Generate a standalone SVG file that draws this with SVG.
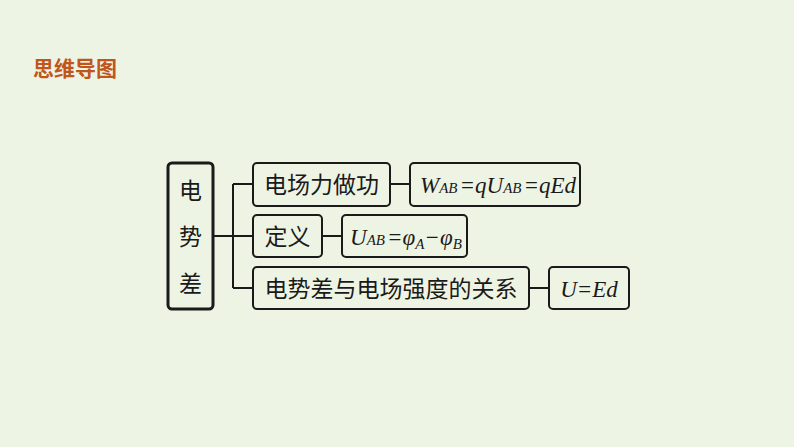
<svg xmlns="http://www.w3.org/2000/svg" width="794" height="447" viewBox="0 0 794 447">
<style>
.box{fill:#eef4e4;stroke:#1a1a1a;stroke-width:2}
.main{fill:#eef4e4;stroke:#1a1a1a;stroke-width:3}
.cn{font-family:"Noto Sans CJK SC","Noto Sans CJK TC",sans-serif;font-size:23px;fill:#1a1a1a}
.f{font-family:"Liberation Serif",serif;font-style:italic;font-size:23px;fill:#1a1a1a}
.s{font-size:15px}
.con{stroke:#1a1a1a;stroke-width:2;fill:none}
</style>
<rect width="794" height="447" fill="#eef4e4"/>
<text x="33" y="76" font-family="Noto Sans CJK SC,sans-serif" font-size="21" font-weight="bold" fill="#c0561b">思维导图</text>
<g id="connectors">
<path class="con" d="M213 236H253M233 184V288M233 184H253M233 288H253M390 184H410M322 236H342M529 288H549"/>
</g>
<g id="n-main">
<rect class="main" x="168" y="163" width="45" height="146" rx="4"/>
<text class="cn" x="190.5" y="199" text-anchor="middle">电</text>
<text class="cn" x="190.5" y="245" text-anchor="middle">势</text>
<text class="cn" x="190.5" y="292" text-anchor="middle">差</text>
</g>
<g id="n-work">
<rect class="box" x="253" y="163" width="137" height="43" rx="4"/>
<text class="cn" x="321.5" y="193" text-anchor="middle">电场力做功</text>
</g>
<g id="n-wab">
<rect class="box" x="410" y="163" width="170" height="43" rx="4"/>
<text class="f" x="420" y="193">W<tspan class="s">AB</tspan><tspan dx="2">=qU</tspan><tspan class="s">AB</tspan><tspan dx="2">=qEd</tspan></text>
</g>
<g id="n-def">
<rect class="box" x="253" y="215" width="69" height="42" rx="4"/>
<text class="cn" x="287.5" y="245" text-anchor="middle">定义</text>
</g>
<g id="n-uab">
<rect class="box" x="342" y="215" width="125" height="42" rx="4"/>
<text class="f" x="350" y="245">U<tspan class="s">AB</tspan><tspan dx="2">=φ</tspan><tspan class="s" dy="4">A</tspan><tspan dy="-4">−φ</tspan><tspan class="s" dy="4">B</tspan></text>
</g>
<g id="n-rel">
<rect class="box" x="253" y="267" width="276" height="42" rx="4"/>
<text class="cn" x="391" y="297" text-anchor="middle">电势差与电场强度的关系</text>
</g>
<g id="n-ued">
<rect class="box" x="549" y="267" width="80" height="42" rx="4"/>
<text class="f" x="589" y="297" text-anchor="middle">U=Ed</text>
</g>
</svg>
